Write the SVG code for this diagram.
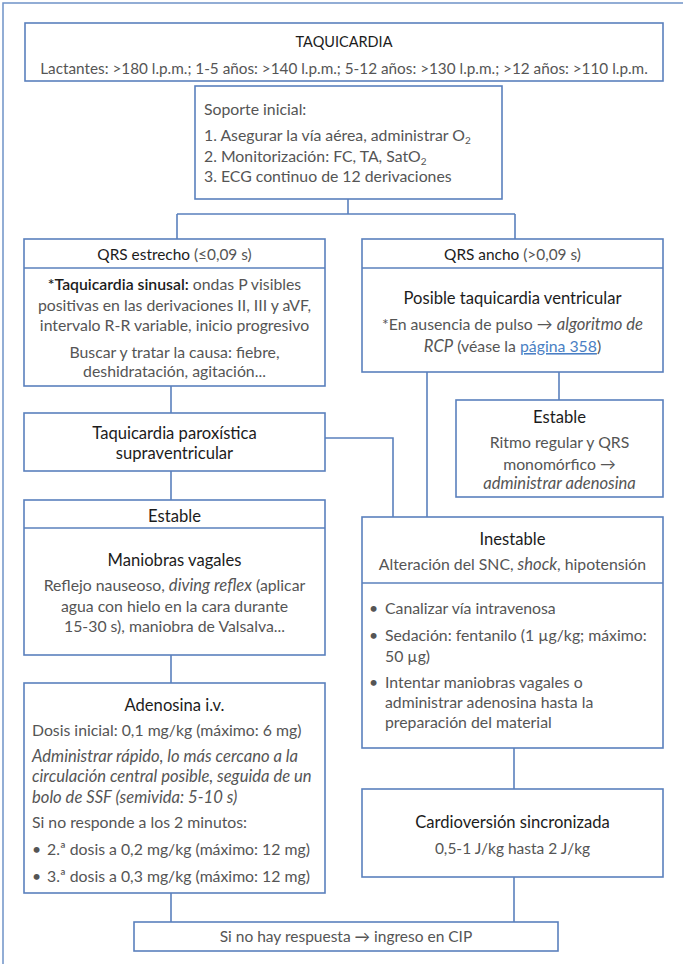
<svg xmlns="http://www.w3.org/2000/svg" width="683" height="964" viewBox="0 0 683 964">
  <defs>
    <style>
      .frame { fill: none; stroke: #6f93c8; stroke-width: 1.5; }
      .box { fill: #ffffff; stroke: #5a80bd; stroke-width: 1.6; }
      .div { stroke: #5a80bd; stroke-width: 1.6; }
      .conn { fill: none; stroke: #5a80bd; stroke-width: 1.6; }
      text { font-family: "Lato", "Liberation Sans", sans-serif; font-size: 15.8px; }
      .h { fill: #1c1c1c; text-anchor: middle; font-size: 16.6px; }
      .q { font-size: 15.4px; }
      .t { font-size: 14.5px; }
      .b { fill: #555555; }
      .c { text-anchor: middle; }
      .s { fill: #1c1c1c; font-weight: 600; }
      .i { font-style: italic; font-size: 16.6px; }
      .link { fill: #4a7fc4; text-decoration: underline; }
      .sub { font-size: 10px; }
    </style>
  </defs>
  <rect width="683" height="964" fill="#ffffff"/>
  <!-- page frame -->
  <rect class="frame" x="3" y="3" width="720" height="1000"/>

  <g id="connectors">
    <path class="conn" d="M348,199 V214 M177,214 H515 M177,214 V239 M515,214 V239"/>
    <path class="conn" d="M171,386 V413"/>
    <path class="conn" d="M325,438 H393 V517"/>
    <path class="conn" d="M427,372 V517"/>
    <path class="conn" d="M559,372 V400"/>
    <path class="conn" d="M171,471 V500"/>
    <path class="conn" d="M171,655 V683"/>
    <path class="conn" d="M514,748 V789"/>
    <path class="conn" d="M171,893 V922"/>
    <path class="conn" d="M514,877 V922"/>
  </g>

  <g id="taquicardia">
    <rect class="box" x="25" y="23" width="638" height="58"/>
    <text class="h t" x="344" y="47">TAQUICARDIA</text>
    <text class="b c" x="344" y="74" style="font-size:15.3px">Lactantes: &gt;180 l.p.m.; 1-5 años: &gt;140 l.p.m.; 5-12 años: &gt;130 l.p.m.; &gt;12 años: &gt;110 l.p.m.</text>
  </g>

  <g id="soporte">
    <rect class="box" x="195" y="86" width="307" height="113"/>
    <text class="b" x="204" y="115">Soporte inicial:</text>
    <text class="b" x="204" y="141">1. Asegurar la vía aérea, administrar O<tspan class="sub" dy="3">2</tspan></text>
    <text class="b" x="204" y="162">2. Monitorización: FC, TA, SatO<tspan class="sub" dy="3">2</tspan></text>
    <text class="b" x="204" y="182">3. ECG continuo de 12 derivaciones</text>
  </g>

  <g id="qrs-estrecho">
    <rect class="box" x="24" y="239" width="301" height="147"/>
    <line class="div" x1="24" y1="268" x2="325" y2="268"/>
    <text class="h q" x="174.5" y="260">QRS estrecho <tspan fill="#555555">(≤0,09 s)</tspan></text>
    <text class="b c" x="174.5" y="290"><tspan class="s">*Taquicardia sinusal:</tspan> ondas P visibles</text>
    <text class="b c" x="174.5" y="311">positivas en las derivaciones II, III y aVF,</text>
    <text class="b c" x="174.5" y="331">intervalo R-R variable, inicio progresivo</text>
    <text class="b c" x="174.5" y="358">Buscar y tratar la causa: fiebre,</text>
    <text class="b c" x="174.5" y="377">deshidratación, agitación...</text>
  </g>

  <g id="qrs-ancho">
    <rect class="box" x="362" y="239" width="301" height="133"/>
    <line class="div" x1="362" y1="268" x2="663" y2="268"/>
    <text class="h q" x="512.5" y="260">QRS ancho <tspan fill="#555555">(&gt;0,09 s)</tspan></text>
    <text class="h" x="512.5" y="304">Posible taquicardia ventricular</text>
    <text class="b c" x="512.5" y="330">*En ausencia de pulso → <tspan class="i">algoritmo de</tspan></text>
    <text class="b c" x="512.5" y="352"><tspan class="i">RCP</tspan> (véase la <tspan class="link">página 358</tspan>)</text>
  </g>

  <g id="estable-ancho">
    <rect class="box" x="456" y="400" width="207" height="97"/>
    <text class="h" x="559.5" y="423">Estable</text>
    <text class="b c" x="559.5" y="448">Ritmo regular y QRS</text>
    <text class="b c" x="559.5" y="470">monomórfico →</text>
    <text class="b c i" x="559.5" y="489">administrar adenosina</text>
  </g>

  <g id="tpsv">
    <rect class="box" x="24" y="413" width="301" height="58"/>
    <text class="h" x="174.5" y="439">Taquicardia paroxística</text>
    <text class="h" x="174.5" y="459">supraventricular</text>
  </g>

  <g id="estable-estrecho">
    <rect class="box" x="24" y="500" width="301" height="155"/>
    <line class="div" x1="24" y1="528" x2="325" y2="528"/>
    <text class="h" x="174.5" y="522">Estable</text>
    <text class="h" x="174.5" y="566">Maniobras vagales</text>
    <text class="b c" x="174.5" y="591">Reflejo nauseoso, <tspan class="i">diving reflex</tspan> (aplicar</text>
    <text class="b c" x="174.5" y="612">agua con hielo en la cara durante</text>
    <text class="b c" x="174.5" y="632">15-30 s), maniobra de Valsalva...</text>
  </g>

  <g id="inestable">
    <rect class="box" x="362" y="517" width="301" height="231"/>
    <line class="div" x1="362" y1="583" x2="663" y2="583"/>
    <text class="h" x="512.5" y="545">Inestable</text>
    <text class="b c" x="512.5" y="570">Alteración del SNC, <tspan class="i">shock</tspan>, hipotensión</text>
    <text class="b" x="369" y="614">•</text>
    <text class="b" x="385" y="614">Canalizar vía intravenosa</text>
    <text class="b" x="369" y="641">•</text>
    <text class="b" x="385" y="641">Sedación: fentanilo (1 µg/kg; máximo:</text>
    <text class="b" x="385" y="662">50 µg)</text>
    <text class="b" x="369" y="688">•</text>
    <text class="b" x="385" y="688">Intentar maniobras vagales o</text>
    <text class="b" x="385" y="708">administrar adenosina hasta la</text>
    <text class="b" x="385" y="728">preparación del material</text>
  </g>

  <g id="adenosina">
    <rect class="box" x="24" y="683" width="301" height="210"/>
    <text class="h" x="174.5" y="711">Adenosina i.v.</text>
    <text class="b" x="32" y="736">Dosis inicial: 0,1 mg/kg (máximo: 6 mg)</text>
    <text class="b i" x="32" y="762">Administrar rápido, lo más cercano a la</text>
    <text class="b i" x="32" y="782">circulación central posible, seguida de un</text>
    <text class="b i" x="32" y="803">bolo de SSF (semivida: 5-10 s)</text>
    <text class="b" x="32" y="828">Si no responde a los 2 minutos:</text>
    <text class="b" x="32" y="855">•</text>
    <text class="b" x="47" y="855">2.ª dosis a 0,2 mg/kg (máximo: 12 mg)</text>
    <text class="b" x="32" y="882">•</text>
    <text class="b" x="47" y="882">3.ª dosis a 0,3 mg/kg (máximo: 12 mg)</text>
  </g>

  <g id="cardioversion">
    <rect class="box" x="362" y="789" width="301" height="88"/>
    <text class="h" x="512.5" y="828">Cardioversión sincronizada</text>
    <text class="b c" x="512.5" y="854" style="font-size:15.5px">0,5-1 J/kg hasta 2 J/kg</text>
  </g>

  <g id="ingreso">
    <rect class="box" x="134" y="922" width="424" height="29"/>
    <text class="b c" x="346" y="942" style="font-size:15.5px">Si no hay respuesta → ingreso en CIP</text>
  </g>
</svg>
